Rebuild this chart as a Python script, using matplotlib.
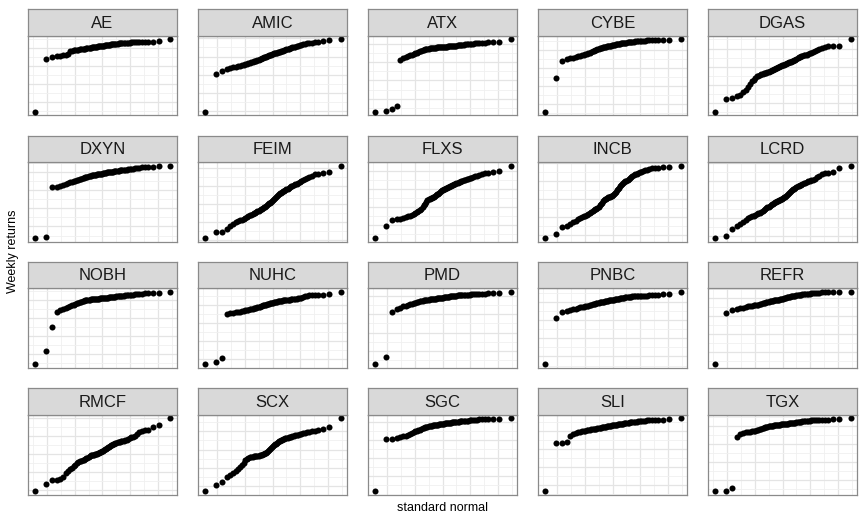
from statistics import NormalDist

import matplotlib
matplotlib.use("Agg")
import matplotlib.pyplot as plt
from matplotlib.ticker import MultipleLocator, MaxNLocator, AutoMinorLocator

plt.rcParams["font.family"] = ["Liberation Sans", "DejaVu Sans"]

# Sorted weekly returns (%) for each ticker
AE = [-88.0, -15.3, -12.5, -11.5, -11.0, -10.5, -10.0, -9.0, -5.0, -4.0, -3.5, -3.0, -2.7, -2.4, -2.0,
      -1.8, -1.5, -1.2, -1.0, -0.8, -0.5, -0.2, 0.0, 0.3, 0.6, 0.9, 1.1, 1.3, 1.6, 1.8, 2.0, 2.2, 2.4,
      2.6, 2.8, 3.0, 3.2, 3.4, 3.6, 3.8, 4.0, 4.2, 4.4, 4.6, 4.8, 5.0, 5.2, 5.4, 5.6, 5.8, 6.0, 6.2,
      6.4, 6.6, 6.8, 6.9, 7.0, 7.2, 7.3, 7.4, 7.5, 7.6, 7.7, 7.8, 7.9, 8.0, 8.1, 8.2, 8.8, 12.0]
AMIC = [-76.0, -23.7, -19.5, -17.5, -16.0, -15.0, -14.0, -13.2, -12.5, -12.0, -11.5, -10.8, -10.0, -9.3,
        -8.7, -8.0, -7.3, -6.7, -6.0, -5.5, -5.0, -4.5, -4.0, -3.3, -2.7, -2.0, -1.0, -0.5, 0.0, 0.6,
        1.2, 1.8, 2.3, 2.8, 3.3, 3.8, 4.3, 4.7, 5.0, 5.4, 5.8, 6.2, 6.6, 7.0, 7.5, 8.0, 8.6, 9.2, 9.8,
        10.4, 11.0, 11.5, 12.0, 12.5, 13.0, 13.5, 14.0, 14.7, 15.3, 16.0, 16.6, 17.2, 18.0, 18.5, 19.0,
        19.8, 20.5, 21.0, 22.5, 24.0]
ATX = [-93.0, -92.5, -90.0, -84.5, -21.5, -19.5, -18.0, -16.5, -15.5, -14.5, -13.5, -12.5, -11.5, -10.7,
       -9.8, -9.0, -8.3, -7.7, -7.2, -6.8, -6.4, -6.1, -5.9, -5.7, -5.5, -5.3, -5.1, -4.9, -4.7, -4.5,
       -4.4, -4.2, -4.1, -3.9, -3.8, -3.6, -3.5, -3.4, -3.3, -3.2, -3.1, -3.0, -2.9, -2.8, -2.6, -2.4,
       -2.2, -2.0, -1.8, -1.6, -1.4, -1.2, -1.0, -0.8, -0.6, -0.4, -0.2, 0.0, 0.3, 0.6, 0.9, 1.2, 1.5,
       1.8, 2.0, 2.2, 2.4, 2.6, 3.2, 7.0]
CYBE = [-85.0, -38.2, -15.5, -13.0, -11.5, -10.5, -9.5, -8.5, -7.8, -7.0, -6.2, -5.5, -5.0, -4.2, -3.5,
        -2.8, -2.0, -1.2, -0.5, 0.2, 1.0, 1.6, 2.2, 2.7, 3.2, 3.7, 4.0, 4.3, 4.6, 4.9, 5.2, 5.5, 5.8,
        6.1, 6.4, 6.7, 7.0, 7.3, 7.6, 7.9, 8.2, 8.5, 8.7, 9.0, 9.2, 9.5, 9.7, 10.0, 10.2, 10.5, 10.7,
        11.0, 11.2, 11.4, 11.6, 11.8, 12.0, 12.2, 12.4, 12.6, 12.8, 13.0, 13.2, 13.4, 13.6, 13.8, 14.0,
        14.2, 14.4, 15.0]
DGAS = [-62.0, -44.5, -42.5, -40.5, -38.5, -35.0, -32.0, -28.5, -24.0, -20.0, -18.0, -16.0, -13.5, -12.5,
        -11.5, -10.7, -10.0, -9.3, -8.7, -8.1, -7.5, -6.8, -6.2, -5.5, -4.8, -4.2, -3.6, -3.0, -2.3,
        -1.6, -1.0, -0.3, 0.4, 1.2, 1.8, 2.4, 3.0, 3.5, 4.0, 4.6, 5.2, 5.8, 6.4, 7.0, 7.6, 8.1, 8.6,
        9.6, 10.7, 11.8, 12.8, 13.7, 14.5, 15.0, 15.5, 16.0, 16.7, 17.5, 18.5, 19.5, 20.5, 21.5, 23.0,
        24.5, 26.0, 27.5, 28.0, 28.5, 29.2, 38.0]
DXYN = [-91.0, -89.0, -21.0, -20.0, -19.0, -18.0, -16.5, -14.5, -13.8, -13.2, -12.6, -12.0, -11.4, -10.7,
        -10.0, -9.2, -8.4, -7.6, -7.1, -6.6, -6.2, -5.8, -5.4, -5.0, -4.7, -4.4, -4.1, -3.8, -3.5, -3.3,
        -3.1, -2.9, -2.6, -2.3, -2.0, -1.7, -1.4, -1.1, -0.8, -0.6, -0.4, -0.1, 0.1, 0.3, 0.5, 0.7, 0.9,
        1.2, 1.5, 1.7, 2.0, 2.2, 2.5, 2.7, 2.9, 3.2, 3.4, 3.7, 3.9, 4.2, 4.6, 5.0, 5.5, 6.0, 6.4, 6.8,
        7.2, 7.6, 8.0, 9.0]
FEIM = [-47.0, -39.0, -38.0, -34.0, -30.5, -27.3, -25.5, -24.0, -22.5, -21.5, -20.5, -19.2, -18.0, -16.8,
        -15.7, -14.8, -13.9, -13.0, -12.1, -11.2, -10.3, -9.4, -8.5, -7.6, -6.7, -5.7, -4.7, -3.7, -2.7,
        -1.7, -0.5, 0.7, 2.0, 3.3, 4.6, 6.0, 7.4, 8.8, 10.2, 11.6, 12.8, 13.8, 14.7, 15.5, 16.4, 17.3,
        18.2, 19.2, 20.2, 21.2, 22.2, 23.2, 24.2, 25.2, 26.2, 27.2, 28.0, 28.7, 30.0, 31.5, 33.0, 34.5,
        36.0, 37.5, 39.0, 41.0, 42.0, 42.6, 44.0, 53.0]
FLXS = [-68.0, -52.0, -43.0, -42.2, -41.2, -40.0, -39.0, -38.0, -37.0, -36.0, -35.0, -33.5, -32.0, -30.5,
        -29.0, -27.5, -25.5, -23.0, -20.5, -18.0, -16.0, -14.8, -14.0, -13.3, -12.5, -11.7, -10.8, -9.8,
        -8.8, -7.7, -6.6, -5.4, -4.2, -3.0, -2.0, -1.2, -0.5, 0.1, 0.7, 1.4, 2.0, 2.7, 3.4, 4.0, 4.7,
        5.4, 6.1, 6.8, 7.6, 8.4, 9.1, 9.9, 10.5, 11.1, 11.7, 12.3, 12.9, 13.5, 14.2, 14.9, 15.7, 16.9,
        18.0, 19.2, 20.4, 21.6, 22.3, 23.0, 23.9, 32.0]
INCB = [-54.0, -48.3, -39.0, -37.0, -35.0, -32.5, -30.0, -28.0, -26.5, -25.0, -24.0, -23.0, -22.0, -21.0,
        -19.5, -18.0, -16.8, -15.5, -14.4, -13.3, -12.0, -10.5, -9.0, -7.2, -5.4, -3.5, -1.7, -0.5, 0.5,
        1.3, 2.0, 2.6, 3.2, 3.6, 4.0, 5.0, 6.5, 8.0, 9.8, 11.6, 13.5, 15.5, 17.5, 19.3, 20.8, 22.0,
        23.0, 24.0, 25.2, 26.5, 27.8, 29.0, 30.3, 31.6, 32.8, 34.0, 35.0, 36.0, 36.8, 37.5, 38.0, 39.2,
        40.5, 41.5, 42.2, 42.6, 43.0, 43.3, 43.6, 46.0]
LCRD = [-53.0, -50.7, -40.4, -37.0, -34.0, -31.0, -28.0, -25.5, -24.0, -23.0, -22.0, -21.0, -20.0, -19.0,
        -18.0, -17.0, -15.7, -14.5, -13.3, -12.0, -10.8, -9.6, -8.4, -7.3, -6.3, -5.4, -4.5, -3.7, -2.9,
        -2.2, -1.6, -1.1, -0.7, 0.3, 1.3, 2.3, 3.3, 4.3, 5.3, 6.3, 7.5, 8.8, 10.2, 11.6, 13.0, 14.3,
        15.3, 16.3, 17.2, 18.1, 19.0, 19.9, 20.8, 21.7, 22.6, 23.5, 24.3, 25.1, 25.9, 26.7, 27.7, 29.0,
        31.0, 33.0, 35.3, 36.3, 37.0, 38.0, 43.6, 47.0]
NOBH = [-89.0, -71.0, -37.5, -17.0, -14.5, -13.0, -11.5, -9.8, -8.5, -7.5, -6.5, -5.5, -4.5, -3.7, -3.0,
        -2.3, -1.7, -1.1, -0.7, -0.3, 0.0, 0.3, 0.5, 0.7, 0.9, 1.1, 1.3, 1.5, 1.6, 1.7, 1.8, 1.9, 2.1,
        2.2, 2.4, 2.5, 2.7, 2.8, 3.0, 3.1, 3.3, 3.4, 3.6, 3.8, 4.0, 4.2, 4.4, 4.6, 4.8, 5.0, 5.2, 5.4,
        5.6, 5.8, 6.0, 6.2, 6.4, 6.5, 6.6, 6.8, 7.2, 7.6, 8.0, 8.4, 8.8, 9.1, 9.4, 9.7, 10.0, 11.0]
NUHC = [-82.0, -78.7, -73.2, -12.5, -11.7, -10.8, -10.2, -9.6, -9.0, -8.5, -8.0, -7.5, -7.0, -6.5, -6.0,
        -5.5, -5.0, -4.5, -4.0, -3.5, -3.1, -2.6, -2.1, -1.6, -1.1, -0.7, -0.3, 0.1, 0.5, 0.9, 1.3, 1.7,
        2.1, 2.5, 2.9, 3.3, 3.7, 4.1, 4.5, 4.8, 5.1, 5.4, 5.7, 5.9, 6.1, 6.3, 6.5, 6.7, 6.9, 7.1, 7.3,
        7.5, 7.7, 7.9, 8.1, 8.4, 8.8, 9.2, 9.7, 10.3, 11.0, 11.8, 12.6, 13.2, 13.5, 13.7, 13.9, 14.1,
        14.6, 18.0]
PMD = [-94.0, -84.0, -21.2, -18.0, -15.5, -14.0, -12.8, -11.8, -11.0, -10.2, -9.5, -8.8, -8.2, -7.6, -7.1,
       -6.6, -6.2, -5.8, -5.4, -5.1, -4.8, -4.5, -4.3, -4.1, -3.9, -3.7, -3.5, -3.3, -3.1, -2.9, -2.7,
       -2.5, -2.3, -2.1, -1.9, -1.7, -1.5, -1.3, -1.1, -0.9, -0.7, -0.5, -0.3, -0.1, 0.1, 0.3, 0.5, 0.7,
       0.9, 1.1, 1.3, 1.5, 1.7, 1.8, 2.0, 2.1, 2.2, 2.3, 2.4, 2.5, 2.6, 2.7, 2.9, 3.1, 3.4, 3.8, 4.1,
       4.4, 5.0, 6.0]
PNBC = [-86.0, -21.3, -13.2, -12.0, -11.0, -10.0, -9.0, -8.0, -7.3, -6.8, -6.3, -5.8, -5.3, -4.8, -4.3,
        -3.8, -3.3, -2.8, -2.2, -1.7, -1.3, -0.9, -0.5, -0.2, 0.1, 0.4, 0.7, 1.0, 1.3, 1.6, 1.9, 2.2,
        2.4, 2.6, 2.8, 3.1, 3.4, 3.7, 4.0, 4.3, 4.6, 4.9, 5.2, 5.5, 5.7, 5.9, 6.2, 6.5, 6.7, 6.9, 7.1,
        7.3, 7.5, 7.7, 7.9, 8.1, 8.3, 8.5, 8.6, 8.7, 8.8, 8.9, 9.0, 9.1, 9.2, 9.5, 10.0, 10.5, 11.2, 14.0]
REFR = [-92.0, -20.6, -17.0, -15.5, -14.5, -13.5, -12.5, -12.0, -11.5, -11.0, -10.6, -10.2, -9.8, -9.4,
        -9.0, -8.5, -7.8, -7.2, -6.7, -6.3, -5.9, -5.5, -5.1, -4.7, -4.4, -4.1, -3.8, -3.5, -3.2, -2.9,
        -2.7, -2.5, -2.2, -1.9, -1.5, -1.1, -0.7, -0.3, 0.1, 0.5, 0.9, 1.3, 1.6, 1.9, 2.1, 2.3, 2.6, 2.9,
        3.2, 3.5, 3.8, 4.1, 4.4, 4.7, 5.0, 5.2, 5.4, 5.6, 5.8, 6.0, 6.3, 6.6, 6.9, 7.2, 7.4, 7.5, 7.6,
        7.7, 7.8, 8.0]
RMCF = [-51.0, -41.8, -36.3, -36.0, -34.0, -31.5, -27.0, -23.0, -21.0, -19.0, -17.0, -15.0, -12.5, -11.0,
        -10.0, -9.4, -9.0, -8.5, -7.5, -6.2, -5.0, -3.8, -2.8, -2.0, -1.5, -1.2, -1.0, -0.8, -0.5, 0.0,
        0.6, 1.3, 2.0, 2.8, 3.6, 4.5, 5.4, 6.3, 7.2, 8.1, 9.0, 10.0, 11.0, 11.8, 12.6, 13.3, 14.0, 14.8,
        15.5, 16.0, 16.5, 17.0, 17.5, 18.0, 18.4, 18.8, 19.6, 20.5, 21.5, 22.6, 23.8, 25.0, 27.5, 30.0,
        31.5, 32.5, 33.5, 36.9, 40.2, 49.0]
SCX = [-57.0, -49.2, -44.6, -38.0, -35.5, -33.0, -30.0, -27.0, -24.0, -21.0, -18.0, -15.0, -12.5, -11.5,
       -10.8, -10.2, -9.8, -9.4, -9.1, -8.8, -8.5, -8.3, -8.1, -7.8, -7.3, -6.7, -6.0, -5.2, -4.4, -3.5,
       -2.2, -0.8, 0.7, 2.2, 3.7, 5.0, 6.2, 7.3, 8.3, 9.3, 10.2, 11.1, 11.9, 12.6, 13.3, 14.0, 14.6,
       15.2, 15.8, 16.4, 16.9, 17.4, 17.9, 18.4, 19.0, 19.5, 20.0, 20.6, 21.2, 21.8, 22.5, 23.0, 23.6,
       24.2, 25.0, 26.0, 27.0, 28.5, 31.0, 43.0]
SGC = [-95.0, -23.4, -23.0, -22.0, -20.5, -19.8, -19.2, -18.5, -17.0, -15.5, -14.0, -13.0, -12.0, -11.2,
       -10.5, -9.8, -9.0, -8.2, -7.5, -7.0, -6.5, -6.1, -5.7, -5.4, -5.1, -4.8, -4.5, -4.2, -4.0, -3.8,
       -3.6, -3.4, -3.2, -2.9, -2.6, -2.4, -2.2, -2.0, -1.8, -1.6, -1.4, -1.2, -1.0, -0.8, -0.6, -0.4,
       -0.2, 0.0, 0.2, 0.4, 0.6, 0.8, 1.0, 1.2, 1.4, 1.6, 1.8, 2.0, 2.2, 2.4, 2.5, 2.8, 3.1, 3.4, 3.6,
       3.7, 3.8, 3.9, 4.0, 5.0]
SLI = [-83.0, -17.0, -16.8, -16.2, -7.0, -5.0, -3.5, -2.0, -1.5, -1.0, -0.5, 0.0, 0.4, 0.8, 1.2, 1.6, 2.0,
       2.3, 2.6, 2.9, 3.2, 3.5, 3.8, 4.1, 4.4, 4.7, 5.0, 5.3, 5.6, 5.9, 6.2, 6.5, 6.8, 7.1, 7.4, 7.6,
       7.8, 8.0, 8.2, 8.4, 8.6, 8.8, 9.0, 9.2, 9.5, 9.8, 10.1, 10.4, 10.7, 11.0, 11.2, 11.4, 11.6, 11.8,
       12.0, 12.2, 12.4, 12.7, 13.0, 13.3, 13.6, 13.9, 14.2, 14.5, 14.8, 15.0, 15.2, 15.3, 15.5, 17.0]
TGX = [-90.0, -89.5, -86.6, -15.2, -12.0, -10.0, -9.3, -8.8, -8.3, -7.8, -7.4, -7.0, -6.5, -6.0, -5.2,
       -4.4, -3.6, -2.9, -2.3, -1.9, -1.5, -1.1, -0.8, -0.5, -0.2, 0.1, 0.3, 0.5, 0.7, 0.9, 1.1, 1.3,
       1.4, 1.5, 1.6, 1.8, 2.0, 2.2, 2.4, 2.6, 2.8, 3.0, 3.2, 3.4, 3.6, 3.8, 4.0, 4.2, 4.4, 4.6, 4.9,
       5.2, 5.5, 5.8, 6.1, 6.3, 6.5, 6.7, 6.9, 7.1, 7.3, 7.5, 7.7, 7.9, 8.1, 8.2, 8.3, 8.4, 8.6, 10.0]

tickers = ["AE", "AMIC", "ATX", "CYBE", "DGAS",
           "DXYN", "FEIM", "FLXS", "INCB", "LCRD",
           "NOBH", "NUHC", "PMD", "PNBC", "REFR",
           "RMCF", "SCX", "SGC", "SLI", "TGX"]
returns = {"AE": AE, "AMIC": AMIC, "ATX": ATX, "CYBE": CYBE, "DGAS": DGAS,
           "DXYN": DXYN, "FEIM": FEIM, "FLXS": FLXS, "INCB": INCB, "LCRD": LCRD,
           "NOBH": NOBH, "NUHC": NUHC, "PMD": PMD, "PNBC": PNBC, "REFR": REFR,
           "RMCF": RMCF, "SCX": SCX, "SGC": SGC, "SLI": SLI, "TGX": TGX}

W, H = 860, 519
fig = plt.figure(figsize=(W / 100, H / 100), dpi=100)
fig.patch.set_facecolor("white")

ncol = 5
left0, col_pitch, panel_w = 27.7, 170.0, 149.6
strip_top0, row_pitch, strip_h, panel_h = 9.2, 126.4, 26.3, 79.8
border = "#8a8a8a"
std = NormalDist()


def theoretical(n):
    a = 0.375 if n <= 10 else 0.5
    return [std.inv_cdf((i + 1 - a) / (n + 1 - 2 * a)) for i in range(n)]


for k, name in enumerate(tickers):
    r, c = divmod(k, ncol)
    x0 = left0 + c * col_pitch
    st = strip_top0 + r * row_pitch
    pt = st + strip_h
    # panel
    ax = fig.add_axes([x0 / W, 1 - (pt + panel_h) / H, panel_w / W, panel_h / H])
    y = sorted(returns[name])
    x = theoretical(len(y))
    ax.scatter(x, y, s=19, color="black", linewidths=0, zorder=3)
    ax.margins(0.05)
    ax.xaxis.set_major_locator(MultipleLocator(1))
    ax.xaxis.set_minor_locator(MultipleLocator(0.5))
    ax.yaxis.set_major_locator(MaxNLocator(nbins=5, steps=[1, 2, 2.5, 5, 10]))
    ax.yaxis.set_minor_locator(AutoMinorLocator(2))
    ax.grid(which="major", color="#e4e4e4", lw=0.9, zorder=0)
    ax.grid(which="minor", color="#f0f0f0", lw=0.6, zorder=0)
    ax.set_axisbelow(True)
    ax.tick_params(which="both", length=0, labelbottom=False, labelleft=False)
    for sp in ax.spines.values():
        sp.set_color(border)
        sp.set_linewidth(0.9)
    # strip
    sx = fig.add_axes([x0 / W, 1 - pt / H, panel_w / W, strip_h / H])
    sx.set_facecolor("#d9d9d9")
    sx.set_xticks([])
    sx.set_yticks([])
    for sp in sx.spines.values():
        sp.set_color(border)
        sp.set_linewidth(0.9)
    sx.text(0.5, 0.47, name, ha="center", va="center", fontsize=12,
            color="#1a1a1a", transform=sx.transAxes)

fig.text(442.5 / W, 1 - 508 / H, "standard normal", ha="center", va="center",
         fontsize=9, color="black")
fig.text(13 / W, 1 - 251.6 / H, "Weekly returns", ha="center", va="center",
         rotation=90, fontsize=9, color="black")

fig.savefig("out.png", dpi=100, facecolor="white")
